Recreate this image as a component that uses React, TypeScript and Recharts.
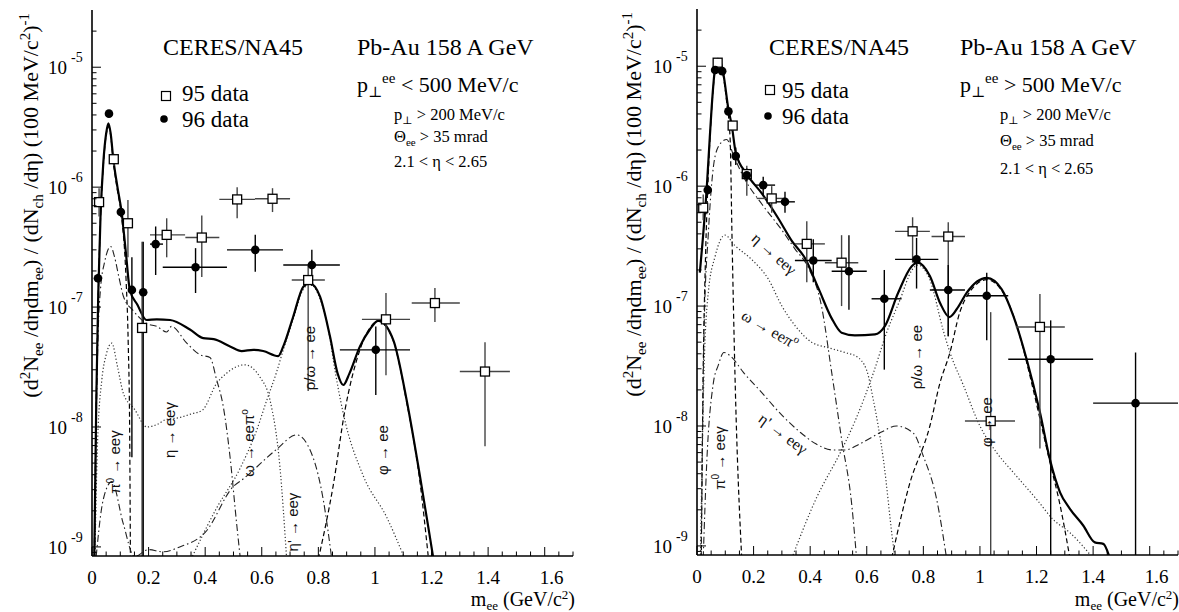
import React from 'react';
import { ComposedChart, Line, Scatter, ErrorBar, XAxis, YAxis } from 'recharts';

type Pt = [number, number];
// x, y, xLow, xHigh, yLow, yHigh
type DataPt = [number, number, number, number, number, number];

const SERIF = '"Liberation Serif", "DejaVu Serif", serif';
const SANS = '"Liberation Sans", "DejaVu Sans", sans-serif';

// axis ranges
const X_MAX = 1.7;
const Y_MIN = 8.4e-10;
const Y_MAX = 3.0e-5;
const yDecades = [1e-10, 1e-9, 1e-8, 1e-7, 1e-6, 1e-5];

// ---------- p_T^ee < 500 MeV/c (left) ----------
const leftTotal: Pt[] = [
  [0.008, 7.9e-10], [0.015, 1.6e-8], [0.022, 1.26e-7], [0.03, 5.6e-7], [0.04, 1.6e-6],
  [0.05, 2.8e-6], [0.058, 3.4e-6], [0.066, 2.8e-6], [0.075, 1.74e-6], [0.09, 1.0e-6],
  [0.105, 6.1e-7], [0.12, 2.8e-7], [0.134, 1.38e-7], [0.16, 1.05e-7], [0.193, 7.8e-8],
  [0.229, 7.9e-8], [0.276, 7.8e-8], [0.346, 6.5e-8], [0.393, 5.5e-8], [0.43, 5.4e-8],
  [0.488, 4.7e-8], [0.529, 4.3e-8], [0.57, 4.4e-8], [0.605, 4.3e-8], [0.658, 3.9e-8],
  [0.676, 4.7e-8], [0.711, 8.3e-8], [0.747, 1.48e-7], [0.77, 1.58e-7], [0.806, 1.22e-7],
  [0.841, 5.7e-8], [0.868, 2.8e-8], [0.888, 2.24e-8], [0.91, 2.8e-8], [0.947, 4.7e-8],
  [0.982, 6.5e-8], [1.012, 7.7e-8], [1.065, 5.3e-8], [1.112, 1.68e-8], [1.159, 3.9e-9],
  [1.194, 1.22e-9], [1.21, 7.1e-10],
];
const leftPi0: Pt[] = [
  [0.008, 7.9e-10], [0.015, 1.6e-8], [0.022, 1.2e-7], [0.03, 5.4e-7], [0.04, 1.51e-6],
  [0.05, 2.7e-6], [0.058, 3.2e-6], [0.066, 2.7e-6], [0.075, 1.66e-6], [0.09, 9.3e-7],
  [0.105, 5.6e-7], [0.12, 1.78e-7], [0.128, 5.0e-8], [0.133, 1.0e-8], [0.136, 6.3e-10],
];
const leftEta: Pt[] = [
  [0.01, 7.9e-10], [0.015, 1.0e-8], [0.022, 6.3e-8], [0.03, 1.41e-7], [0.045, 2.4e-7],
  [0.066, 3.2e-7], [0.08, 2.6e-7], [0.095, 1.78e-7], [0.111, 1.23e-7], [0.146, 9.3e-8],
  [0.193, 7.3e-8], [0.229, 6.9e-8], [0.264, 6.2e-8], [0.281, 6.9e-8], [0.335, 5.0e-8],
  [0.382, 4.0e-8], [0.417, 3.8e-8], [0.44, 2.5e-8], [0.464, 1.48e-8], [0.488, 5.6e-9],
  [0.511, 1.58e-9], [0.529, 6.3e-10],
];
const leftOmegaDalitz: Pt[] = [
  [0.01, 7.9e-10], [0.02, 7.9e-9], [0.035, 2.5e-8], [0.05, 4.0e-8], [0.07, 5.0e-8],
  [0.09, 3.2e-8], [0.111, 1.9e-8], [0.15, 1.41e-8], [0.194, 1.0e-8], [0.23, 1.05e-8],
  [0.26, 1.15e-8], [0.31, 1.2e-8], [0.353, 1.29e-8], [0.39, 1.38e-8], [0.44, 2.3e-8],
  [0.475, 2.8e-8], [0.54, 3.3e-8], [0.594, 2.6e-8], [0.629, 1.68e-8], [0.664, 4.7e-9],
  [0.688, 7.9e-10],
];
const leftEtaPrime: Pt[] = [
  [0.01, 6.3e-10], [0.04, 2.5e-9], [0.07, 3.5e-9], [0.11, 1.58e-9], [0.15, 8.3e-10],
  [0.2, 9.5e-10], [0.25, 9.1e-10], [0.31, 1.0e-9], [0.4, 1.32e-9], [0.5, 3.2e-9],
  [0.535, 3.7e-9], [0.652, 6.5e-9], [0.723, 8.6e-9], [0.781, 5.6e-9], [0.817, 2.5e-9],
  [0.85, 7.1e-10],
];
const leftRhoOmega: Pt[] = [
  [0.35, 7.9e-10], [0.44, 2.1e-9], [0.523, 4.5e-9], [0.582, 9.4e-9], [0.618, 1.68e-8],
  [0.653, 2.9e-8], [0.676, 4.4e-8], [0.711, 7.9e-8], [0.747, 1.41e-7], [0.77, 1.55e-7],
  [0.806, 1.17e-7], [0.841, 5.5e-8], [0.853, 3.6e-8], [0.888, 1.3e-8], [0.959, 3.9e-9],
  [1.041, 1.78e-9], [1.106, 7.9e-10],
];
const leftPhi: Pt[] = [
  [0.8, 7.9e-10], [0.852, 3.2e-9], [0.894, 1.38e-8], [0.947, 4.4e-8], [0.98, 6.6e-8],
  [1.012, 7.6e-8], [1.065, 5.2e-8], [1.112, 1.62e-8], [1.159, 3.5e-9], [1.188, 8.5e-10],
];
const left95: DataPt[] = [
  [0.025, 7.5e-7, 0.025, 0.025, 5.7e-7, 9.8e-7],
  [0.077, 1.71e-6, 0.067, 0.087, 1.5e-6, 1.9e-6],
  [0.127, 5.0e-7, 0.127, 0.127, 2.6e-7, 7.8e-7],
  [0.177, 6.7e-8, 0.177, 0.177, 8.4e-10, 3.5e-7],
  [0.264, 4.0e-7, 0.205, 0.329, 2.6e-7, 5.5e-7],
  [0.388, 3.8e-7, 0.33, 0.45, 1.78e-7, 5.8e-7],
  [0.513, 7.9e-7, 0.45, 0.576, 5.5e-7, 1.0e-6],
  [0.638, 8.0e-7, 0.576, 0.7, 6.2e-7, 9.8e-7],
  [0.764, 1.68e-7, 0.706, 0.823, 2.0e-8, 2.2e-7],
  [1.039, 7.9e-8, 0.954, 1.124, 2.7e-8, 1.31e-7],
  [1.212, 1.08e-7, 1.13, 1.3, 7.5e-8, 1.44e-7],
  [1.389, 2.9e-8, 1.3, 1.477, 6.9e-9, 5.1e-8],
];
const left96: DataPt[] = [
  [0.021, 1.74e-7, 0.021, 0.021, 1.6e-7, 1.9e-7],
  [0.06, 4.1e-6, 0.06, 0.06, 3.8e-6, 4.4e-6],
  [0.102, 6.2e-7, 0.102, 0.102, 5.6e-7, 6.9e-7],
  [0.141, 1.39e-7, 0.141, 0.141, 5.6e-9, 2.6e-7],
  [0.181, 1.33e-7, 0.181, 0.181, 8.4e-10, 3.5e-7],
  [0.225, 3.35e-7, 0.205, 0.251, 1.85e-7, 4.7e-7],
  [0.366, 2.15e-7, 0.25, 0.477, 1.31e-7, 3.1e-7],
  [0.577, 3.0e-7, 0.477, 0.675, 1.97e-7, 4.0e-7],
  [0.777, 2.24e-7, 0.676, 0.876, 1.5e-7, 3.0e-7],
  [1.003, 4.4e-8, 0.876, 1.124, 1.85e-8, 6.9e-8],
];

// ---------- p_T^ee > 500 MeV/c (right) ----------
const rightTotal: Pt[] = [
  [0.01, 1.9e-7], [0.02, 3.5e-7], [0.034, 9.3e-7], [0.045, 2.5e-6], [0.052, 4.6e-6],
  [0.062, 8.9e-6], [0.073, 1.15e-5], [0.085, 1.05e-5], [0.093, 8.7e-6], [0.111, 4.4e-6],
  [0.123, 3.2e-6], [0.137, 1.9e-6], [0.176, 1.26e-6], [0.229, 8.7e-7], [0.287, 5.4e-7],
  [0.335, 3.5e-7], [0.382, 2.5e-7], [0.429, 1.41e-7], [0.476, 7.9e-8], [0.511, 6.0e-8],
  [0.558, 5.7e-8], [0.629, 5.8e-8], [0.664, 6.8e-8], [0.711, 1.29e-7], [0.759, 2.15e-7],
  [0.78, 2.3e-7], [0.823, 1.78e-7], [0.86, 1.05e-7], [0.892, 8.1e-8], [0.925, 1.0e-7],
  [0.953, 1.29e-7], [1.024, 1.72e-7], [1.077, 1.38e-7], [1.118, 8.3e-8], [1.165, 3.6e-8],
  [1.212, 1.3e-8], [1.247, 5.3e-9], [1.283, 2.8e-9], [1.318, 2.04e-9], [1.365, 1.48e-9],
  [1.406, 1.07e-9], [1.436, 1.04e-9], [1.459, 7.9e-10],
];
const rightPi0: Pt[] = [
  [0.015, 7.9e-10], [0.022, 3.0e-8], [0.03, 2.5e-7], [0.04, 1.26e-6], [0.052, 4.4e-6],
  [0.062, 8.5e-6], [0.073, 1.1e-5], [0.085, 1.0e-5], [0.093, 8.3e-6], [0.105, 5.0e-6],
  [0.117, 2.5e-6], [0.124, 3.5e-7], [0.134, 2.8e-8], [0.158, 7.9e-10],
];
const rightEta: Pt[] = [
  [0.015, 7.9e-10], [0.025, 6.3e-8], [0.04, 4.0e-7], [0.064, 1.78e-6], [0.085, 2.3e-6],
  [0.105, 2.45e-6], [0.13, 1.78e-6], [0.17, 1.13e-6], [0.229, 7.1e-7], [0.3, 4.3e-7],
  [0.346, 3.0e-7], [0.393, 2.1e-7], [0.44, 1.0e-7], [0.476, 2.8e-8], [0.511, 7.8e-9],
  [0.547, 2.2e-9], [0.564, 7.9e-10],
];
const rightOmegaDalitz: Pt[] = [
  [0.012, 7.9e-10], [0.025, 3.0e-8], [0.04, 1.3e-7], [0.064, 2.6e-7], [0.099, 3.9e-7],
  [0.134, 3.2e-7], [0.193, 2.45e-7], [0.252, 1.68e-7], [0.3, 1.0e-7], [0.346, 6.9e-8],
  [0.405, 5.0e-8], [0.464, 4.5e-8], [0.523, 4.1e-8], [0.564, 3.8e-8], [0.6, 2.9e-8],
  [0.623, 1.66e-8], [0.659, 5.2e-9], [0.694, 1.0e-9], [0.7, 7.9e-10],
];
const rightEtaPrime: Pt[] = [
  [0.022, 7.9e-10], [0.034, 4.7e-9], [0.058, 2.3e-8], [0.075, 3.2e-8], [0.095, 4.1e-8],
  [0.12, 3.8e-8], [0.164, 2.8e-8], [0.229, 1.9e-8], [0.3, 1.23e-8], [0.364, 8.9e-9],
  [0.42, 7.1e-9], [0.482, 6.3e-9], [0.523, 6.3e-9], [0.576, 7.1e-9], [0.652, 8.9e-9],
  [0.705, 1.0e-8], [0.765, 8.7e-9], [0.8, 5.6e-9], [0.847, 2.45e-9], [0.882, 7.9e-10],
];
const rightRhoOmega: Pt[] = [
  [0.335, 7.9e-10], [0.42, 2.45e-9], [0.511, 6.3e-9], [0.56, 1.12e-8], [0.623, 2.75e-8],
  [0.67, 6.0e-8], [0.717, 1.12e-7], [0.76, 2.0e-7], [0.78, 2.2e-7], [0.823, 1.66e-7],
  [0.87, 6.3e-8], [0.894, 4.1e-8], [0.941, 2.2e-8], [1.0, 1.0e-8], [1.059, 6.0e-9],
  [1.118, 4.1e-9], [1.2, 2.45e-9], [1.259, 1.66e-9], [1.318, 1.29e-9], [1.4, 7.9e-10],
];
const rightPhi: Pt[] = [
  [0.688, 7.9e-10], [0.75, 3.2e-9], [0.823, 1.0e-8], [0.859, 2.3e-8], [0.894, 4.1e-8],
  [0.929, 8.9e-8], [0.965, 1.32e-7], [1.024, 1.66e-7], [1.082, 1.29e-7], [1.13, 6.9e-8],
  [1.177, 2.6e-8], [1.212, 1.15e-8], [1.247, 5.0e-9], [1.283, 2.2e-9], [1.318, 7.9e-10],
];
const right95: DataPt[] = [
  [0.022, 6.6e-7, 0.022, 0.022, 5.2e-7, 8.5e-7],
  [0.073, 1.07e-5, 0.073, 0.073, 9.8e-6, 1.15e-5],
  [0.126, 3.2e-6, 0.116, 0.136, 2.9e-6, 3.5e-6],
  [0.176, 1.26e-6, 0.166, 0.186, 8.3e-7, 1.48e-6],
  [0.264, 7.9e-7, 0.211, 0.311, 6.0e-7, 1.0e-6],
  [0.388, 3.3e-7, 0.346, 0.452, 1.58e-7, 5.1e-7],
  [0.511, 2.3e-7, 0.452, 0.57, 1.0e-7, 3.9e-7],
  [0.762, 4.2e-7, 0.7, 0.823, 2.3e-7, 5.5e-7],
  [0.888, 3.8e-7, 0.829, 0.947, 5.6e-8, 5.0e-7],
  [1.038, 1.1e-8, 0.947, 1.124, 8.4e-10, 8.9e-8],
  [1.212, 6.7e-8, 1.127, 1.3, 6.5e-9, 1.26e-7],
];
const right96: DataPt[] = [
  [0.038, 9.3e-7, 0.038, 0.038, 8.5e-7, 1.02e-6],
  [0.064, 9.3e-6, 0.064, 0.064, 8.8e-6, 9.8e-6],
  [0.089, 9.1e-6, 0.089, 0.089, 8.6e-6, 9.6e-6],
  [0.111, 4.2e-6, 0.111, 0.111, 3.9e-6, 4.5e-6],
  [0.137, 1.78e-6, 0.137, 0.137, 1.5e-6, 2.1e-6],
  [0.176, 1.23e-6, 0.176, 0.176, 1.1e-6, 1.4e-6],
  [0.234, 1.02e-6, 0.205, 0.276, 8.3e-7, 1.2e-6],
  [0.311, 7.4e-7, 0.276, 0.346, 6.0e-7, 9.0e-7],
  [0.411, 2.4e-7, 0.346, 0.476, 1.58e-7, 3.6e-7],
  [0.537, 1.95e-7, 0.476, 0.6, 9.3e-8, 3.9e-7],
  [0.662, 1.15e-7, 0.617, 0.723, 2.95e-8, 2.0e-7],
  [0.776, 2.45e-7, 0.7, 0.853, 1.4e-7, 3.7e-7],
  [0.888, 1.36e-7, 0.823, 0.947, 5.6e-8, 2.2e-7],
  [1.024, 1.22e-7, 0.953, 1.1, 5.2e-8, 1.9e-7],
  [1.25, 3.6e-8, 1.1, 1.4, 8.4e-10, 7.6e-8],
  [1.55, 1.55e-8, 1.4, 1.7, 8.4e-10, 4.1e-8],
];

// ---------- ticks ----------
const xTicks: number[] = [];
for (let i = 0; i <= 34; i++) xTicks.push(+(i * 0.05).toFixed(2));
const yTicks: number[] = [];
yDecades.forEach((d) => {
  for (let k = 1; k <= 9; k++) {
    const v = k * d;
    if (v >= Y_MIN && v <= Y_MAX) yTicks.push(v);
  }
});

const curve = (pts: Pt[]) => pts.map(([x, y]) => ({ x, y }));
const points = (pts: DataPt[]) =>
  pts.map(([x, y, xl, xh, yl, yh]) => ({ x, y, ex: [x - xl, xh - x], ey: [y - yl, yh - y] }));

const AXIS = { stroke: '#000', strokeWidth: 1.6 };

const XTick = (p: any) => {
  const { x, y, payload, top } = p;
  const v = payload.value;
  const major = Math.abs(v / 0.2 - Math.round(v / 0.2)) < 1e-6;
  const len = major ? 9 : 4.5;
  const label = v === 0 ? '0' : v === 1 ? '1' : v.toFixed(1);
  return (
    <g>
      <line x1={x} x2={x} y1={y} y2={top ? y + len : y - len} stroke="#000" strokeWidth={1} />
      {!top && major && v < 1.65 && (
        <text x={x + (v > 1.5 ? 7 : 0)} y={y + 28} textAnchor="middle" fontSize={19} fontFamily={SERIF} fill="#000">
          {label}
        </text>
      )}
    </g>
  );
};

const YTick = (p: any) => {
  const { x, y, payload, right } = p;
  const lg = Math.log10(payload.value);
  const major = Math.abs(lg - Math.round(lg)) < 1e-6;
  const len = major ? 9 : 4.5;
  return (
    <g>
      <line x1={x} x2={right ? x - len : x + len} y1={y} y2={y} stroke="#000" strokeWidth={1} />
      {!right && major && (
        <g fontFamily={SERIF} fill="#000">
          <text x={x - 25} y={y + 7} textAnchor="end" fontSize={19}>10</text>
          <text x={x - 21} y={y - 5} fontSize={14}>{String(Math.round(lg))}</text>
        </g>
      )}
    </g>
  );
};

const OpenSquare = (p: any) => (
  <rect x={p.cx - 4.5} y={p.cy - 4.5} width={9} height={9} fill="#fff" stroke="#000" strokeWidth={1.3} />
);
const FilledDot = (p: any) => <circle cx={p.cx} cy={p.cy} r={4.3} fill="#000" />;

const DASHED = { stroke: '#000', strokeWidth: 1.2, strokeDasharray: '5 3' };
const DOTTED = { stroke: '#333', strokeWidth: 1.2, strokeDasharray: '1.2 2.2' };
const DASHDOT = { stroke: '#222', strokeWidth: 1.1, strokeDasharray: '7 3 1.5 3' };

type PanelProps = {
  total: Pt[]; pi0: Pt[]; eta: Pt[]; omega: Pt[]; etap: Pt[]; rho: Pt[]; phi: Pt[];
  d95: DataPt[]; d96: DataPt[];
  width: number; margin: { top: number; right: number; bottom: number; left: number };
};

function Panel(props: PanelProps) {
  const comps = [
    { data: props.pi0, style: DASHED },
    { data: props.eta, style: DASHDOT },
    { data: props.omega, style: DOTTED },
    { data: props.etap, style: DASHDOT },
    { data: props.rho, style: DOTTED },
    { data: props.phi, style: DASHED },
  ];
  return (
    <ComposedChart width={props.width} height={612} margin={props.margin}>
      <XAxis xAxisId="b" type="number" dataKey="x" domain={[0, X_MAX]} allowDataOverflow ticks={xTicks}
        interval={0} height={40} tickSize={0} tickMargin={0} tickLine={false} axisLine={AXIS}
        tick={(p: any) => <XTick {...p} />} />
      <XAxis xAxisId="t" orientation="top" type="number" domain={[0, X_MAX]} allowDataOverflow ticks={xTicks}
        interval={0} height={0} tickSize={0} tickMargin={0} tickLine={false} axisLine={AXIS}
        tick={(p: any) => <XTick {...p} top />} />
      <YAxis yAxisId="l" type="number" dataKey="y" scale="log" domain={[Y_MIN, Y_MAX]} allowDataOverflow
        ticks={yTicks} interval={0} width={92} tickSize={0} tickMargin={0} tickLine={false} axisLine={AXIS}
        tick={(p: any) => <YTick {...p} />} />
      <YAxis yAxisId="r" orientation="right" type="number" scale="log" domain={[Y_MIN, Y_MAX]} allowDataOverflow
        ticks={yTicks} interval={0} width={0} tickSize={0} tickMargin={0} tickLine={false} axisLine={AXIS}
        tick={(p: any) => <YTick {...p} right />} />
      {comps.map((c, i) => (
        <Line key={i} xAxisId="b" yAxisId="l" data={curve(c.data)} dataKey="y" type="monotone"
          dot={false} activeDot={false} isAnimationActive={false} {...c.style} />
      ))}
      <Line xAxisId="b" yAxisId="l" data={curve(props.total)} dataKey="y" type="monotone" stroke="#000"
        strokeWidth={2.2} dot={false} activeDot={false} isAnimationActive={false} />
      <Scatter xAxisId="b" yAxisId="l" data={points(props.d95)} shape={OpenSquare} isAnimationActive={false}>
        <ErrorBar dataKey="ex" direction="x" width={0} stroke="#444" strokeWidth={1.4} />
        <ErrorBar dataKey="ey" direction="y" width={0} stroke="#444" strokeWidth={1.4} />
      </Scatter>
      <Scatter xAxisId="b" yAxisId="l" data={points(props.d96)} shape={FilledDot} isAnimationActive={false}>
        <ErrorBar dataKey="ex" direction="x" width={0} stroke="#000" strokeWidth={1.4} />
        <ErrorBar dataKey="ey" direction="y" width={0} stroke="#000" strokeWidth={1.4} />
      </Scatter>
    </ComposedChart>
  );
}

const YTitle = ({ x, y }: { x: number; y: number }) => (
  <text transform={`rotate(-90 ${x} ${y})`} x={x} y={y} textAnchor="end" fontSize={22} fontFamily={SERIF}>
    (d<tspan dy={-8} fontSize={15}>2</tspan>
    <tspan dy={8}>N</tspan>
    <tspan dy={5} fontSize={15}>ee</tspan>
    <tspan dy={-5}> /dηdm</tspan>
    <tspan dy={5} fontSize={15}>ee</tspan>
    <tspan dy={-5}>) / (dN</tspan>
    <tspan dy={5} fontSize={15}>ch</tspan>
    <tspan dy={-5}> /dη) (100 MeV/c</tspan>
    <tspan dy={-8} fontSize={15}>2</tspan>
    <tspan dy={8}>)</tspan>
    <tspan dy={-9} fontSize={15}>-1</tspan>
  </text>
);

const XTitle = ({ x, y }: { x: number; y: number }) => (
  <text x={x} y={y} textAnchor="end" fontSize={20} fontFamily={SERIF}>
    m<tspan dy={4} fontSize={13}>ee</tspan>
    <tspan dy={-4}> (GeV/c</tspan>
    <tspan dy={-7} fontSize={13}>2</tspan>
    <tspan dy={7}>)</tspan>
  </text>
);

const VLabel = ({ x, y, children, sans }: { x: number; y: number; children: React.ReactNode; sans?: boolean }) => (
  <text transform={`rotate(-90 ${x} ${y})`} x={x} y={y} textAnchor="middle" fontSize={15}
    fontFamily={sans ? SANS : SERIF} fill="#111">
    {children}
  </text>
);

const DLabel = ({ x, y, a, children }: { x: number; y: number; a: number; children: React.ReactNode }) => (
  <text transform={`rotate(${a} ${x} ${y})`} x={x} y={y} textAnchor="middle" dominantBaseline="middle"
    fontSize={16} fontFamily={SERIF} fill="#111">
    {children}
  </text>
);

const Pi0 = () => (<>π<tspan dy={-6} fontSize={10}>0</tspan><tspan dy={6}> → eeγ</tspan></>);

type HeaderProps = {
  x0: number; x1: number; x2: number; cut: string; ys: number[];
  legX: number; legText: number; sqY: number; dotY: number; txtY: number[];
};

function Header({ x0, x1, x2, cut, ys, legX, legText, sqY, dotY, txtY }: HeaderProps) {
  return (
    <g fontFamily={SERIF} fill="#000">
      <text x={x0} y={55} fontSize={24}>CERES/NA45</text>
      <text x={x1} y={55} fontSize={24}>Pb-Au 158 A GeV</text>
      <text x={x1} y={92} fontSize={22}>
        p<tspan dy={5} fontSize={15}>⊥</tspan><tspan dy={-14} fontSize={15}>ee</tspan><tspan dy={9}>{` ${cut} 500 MeV/c`}</tspan>
      </text>
      <text x={x2} y={ys[0]} fontSize={16.5}>
        p<tspan dy={4} fontSize={11}>⊥</tspan><tspan dy={-4}> &gt; 200 MeV/c</tspan>
      </text>
      <text x={x2} y={ys[1]} fontSize={16.5}>
        Θ<tspan dy={4} fontSize={11}>ee</tspan><tspan dy={-4}> &gt; 35 mrad</tspan>
      </text>
      <text x={x2} y={ys[2]} fontSize={16.5}>2.1 &lt; η &lt; 2.65</text>
      <rect x={legX - 4.5} y={sqY - 4.5} width={9} height={9} fill="#fff" stroke="#000" strokeWidth={1.2} />
      <text x={legText} y={txtY[0]} fontSize={23}>95 data</text>
      <circle cx={legX - 2} cy={dotY} r={3.8} fill="#000" />
      <text x={legText} y={txtY[1]} fontSize={23}>96 data</text>
    </g>
  );
}

export default function App() {
  return (
    <div style={{ position: 'absolute', left: 0, top: 0, width: 1179, height: 612, background: '#fff', overflow: 'hidden' }}>
      <div style={{ position: 'absolute', left: 0, top: 0 }}>
        <Panel total={leftTotal} pi0={leftPi0} eta={leftEta} omega={leftOmegaDalitz} etap={leftEtaPrime}
          rho={leftRhoOmega} phi={leftPhi} d95={left95} d96={left96} width={590}
          margin={{ top: 10, right: 17, bottom: 16, left: 0 }} />
      </div>
      <div style={{ position: 'absolute', left: 605, top: 0 }}>
        <Panel total={rightTotal} pi0={rightPi0} eta={rightEta} omega={rightOmegaDalitz} etap={rightEtaPrime}
          rho={rightRhoOmega} phi={rightPhi} d95={right95} d96={right96} width={574}
          margin={{ top: 9, right: 1, bottom: 17, left: 0 }} />
      </div>
      <svg width={1179} height={612} style={{ position: 'absolute', left: 0, top: 0, pointerEvents: 'none' }}>
        <YTitle x={38} y={13} />
        <YTitle x={641} y={12} />
        <XTitle x={575} y={606} />
        <XTitle x={1179} y={606} />
        <Header x0={163} x1={357} x2={394} cut="<" ys={[120, 142, 167]}
          legX={166} legText={182} sqY={96} dotY={119} txtY={[101, 127]} />
        <Header x0={769} x1={960} x2={1000} cut=">" ys={[120, 146, 174]}
          legX={770} legText={782} sqY={90} dotY={116} txtY={[98, 124]} />
        {/* left panel curve labels */}
        <VLabel x={120} y={462} sans><Pi0 /></VLabel>
        <VLabel x={175} y={430} sans>η → eeγ</VLabel>
        <VLabel x={254} y={443} sans>ω → eeπ<tspan dy={-6} fontSize={10}>o</tspan></VLabel>
        <VLabel x={298} y={522} sans>η' → eeγ</VLabel>
        <VLabel x={315} y={358} sans>ρ/ω → ee</VLabel>
        <VLabel x={388} y={450} sans>φ → ee</VLabel>
        {/* right panel curve labels */}
        <VLabel x={725} y={458} sans><Pi0 /></VLabel>
        <DLabel x={773} y={255} a={42}>η → eeγ</DLabel>
        <DLabel x={769} y={331} a={30}>ω → eeπ<tspan dy={-6} fontSize={11}>o</tspan></DLabel>
        <DLabel x={782} y={435} a={37}>η' → eeγ</DLabel>
        <VLabel x={922} y={357} sans>ρ/ω → ee</VLabel>
        <VLabel x={992} y={422} sans>φ → ee</VLabel>
      </svg>
    </div>
  );
}
